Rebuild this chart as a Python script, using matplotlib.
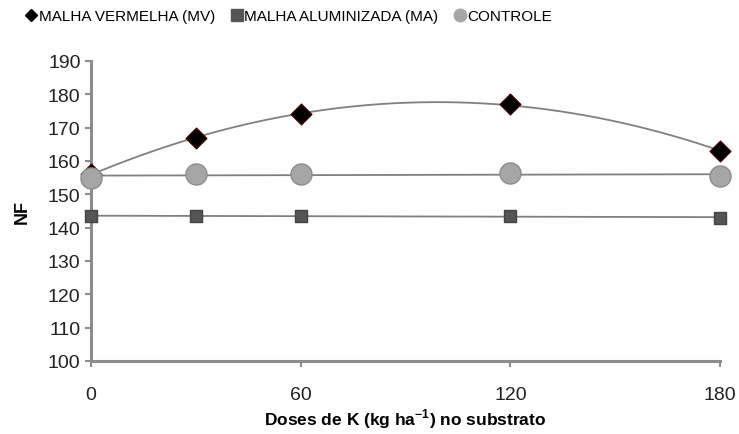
import numpy as np
import matplotlib
matplotlib.use('Agg')
import matplotlib.pyplot as plt
from matplotlib.lines import Line2D

plt.rcParams['font.family'] = ['Liberation Sans', 'DejaVu Sans']

doses = [0, 30, 60, 120, 180]
mv = [156, 167, 174, 177, 163]
ma = [143.5, 143.5, 143.5, 143.5, 143]
controle = [155, 156, 156, 156.5, 155.5]

fig = plt.figure(figsize=(7.39, 4.35), dpi=100)
ax = fig.add_axes([91/739, 1-362/435, (720-91)/739, 300/435])

xs = np.linspace(0, 180, 200)
line_c = '#808080'

# linhas de tendencia
p_mv = np.polyfit(doses, mv, 2)
p_ma = np.polyfit(doses, ma, 1)
p_c = np.polyfit(doses, controle, 1)
ax.plot(xs, np.polyval(p_mv, xs), color=line_c, lw=1.3, zorder=2)
ax.plot(xs, np.polyval(p_ma, xs), color=line_c, lw=1.3, zorder=2)
ax.plot(xs, np.polyval(p_c, xs), color=line_c, lw=1.3, zorder=2)

ax.scatter(doses, ma, marker='s', s=85, color='#555555', edgecolor='#444444', zorder=3, clip_on=False)
ax.scatter(doses, mv, marker='D', s=110, color='black', edgecolor='#3a0000', zorder=4, clip_on=False)
ax.scatter(doses, controle, marker='o', s=230, color='#a6a6a6', edgecolor='#8c8c8c', lw=1, zorder=5, clip_on=False)

ax.set_xlim(0, 180)
ax.set_ylim(100, 190)
ax.set_xticks([0, 60, 120, 180])
ax.set_yticks(range(100, 191, 10))
for s in ['top', 'right']:
    ax.spines[s].set_visible(False)
for s in ['left', 'bottom']:
    ax.spines[s].set_color('#8c8c8c')
    ax.spines[s].set_linewidth(2.2)
ax.tick_params(axis='both', colors='#8c8c8c', labelcolor='#222222', labelsize=14, width=1.5, length=4)
ax.tick_params(axis='x', pad=14)

ax.set_ylabel('NF', fontsize=13, fontweight='bold', labelpad=12)
ax.set_xlabel('Doses de K (kg ha$^{\\mathregular{-1}}$) no substrato', fontsize=12.5, fontweight='bold')
ax.xaxis.set_label_coords(0.5, -0.15)

handles = [
    Line2D([], [], ls='', marker='D', color='black', markersize=6),
    Line2D([], [], ls='', marker='s', color='#555555', markersize=9),
    Line2D([], [], ls='', marker='o', color='#a6a6a6', markersize=9),
]
labels = ['MALHA VERMELHA (MV)', 'MALHA ALUMINIZADA (MA)', 'CONTROLE']
fig.legend(handles, labels, loc='center left', bbox_to_anchor=(10/739, 1-17/435), ncol=3,
           frameon=False, fontsize=11,
           handletextpad=0.0, columnspacing=0.9, handlelength=1.0)

fig.savefig('out.png', dpi=100)
